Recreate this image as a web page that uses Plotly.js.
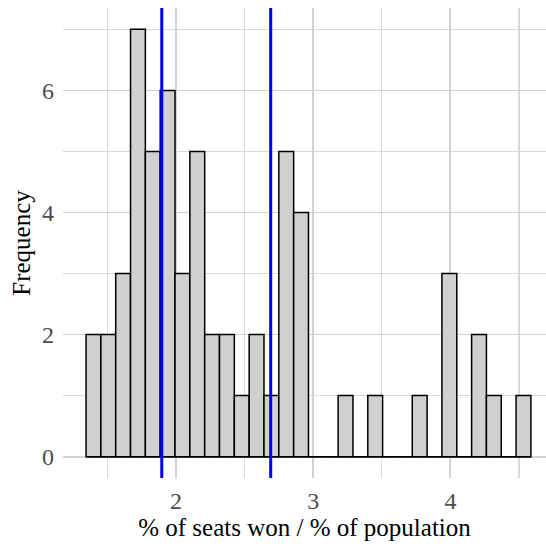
<!DOCTYPE html>
<html>
<head>
<meta charset="utf-8">
<script src="https://cdn.plot.ly/plotly-3.0.1.min.js"></script>
<style>html,body{margin:0;padding:0;background:#fff;}#chart{width:546px;height:548px;}</style>
</head>
<body>
<div id="chart"></div>
<script>
// Histogram bins (30 bins)
var binStart = 1.344;
var binWidth = 0.1081;
var counts = [2,2,3,7,5,6,3,5,2,2,1,2,1,5,4,0,0,1,0,1,0,0,1,0,3,0,2,1,0,1];
// Reference lines (blue)
var refLines = [1.896, 2.690];
var xTickVals = [2, 3, 4];
var yTickVals = [0, 2, 4, 6];

var centers = counts.map(function(c, i){ return binStart + (i + 0.5) * binWidth; });
var binEnd = binStart + counts.length * binWidth;

var font = "Liberation Serif, Times New Roman, serif";

var traces = [
  {
    type: 'bar', x: centers, y: counts, width: binWidth,
    marker: {color: '#d0d0d0', line: {color: '#000000', width: 1.5}},
    hoverinfo: 'skip', showlegend: false
  },
  {
    type: 'scatter', mode: 'lines', x: [binStart, binEnd], y: [0, 0],
    line: {color: '#000000', width: 1.5}, hoverinfo: 'skip', showlegend: false
  }
];

var shapes = refLines.map(function(v){
  return {type: 'line', xref: 'x', yref: 'paper', x0: v, x1: v, y0: 0, y1: 1,
          line: {color: '#0000ff', width: 3}, layer: 'above'};
});

var layout = {
  width: 546, height: 548,
  margin: {l: 63, r: 0, t: 8, b: 70},
  paper_bgcolor: '#ffffff', plot_bgcolor: '#ffffff',
  bargap: 0,
  showlegend: false,
  font: {family: font, size: 24, color: '#4d4d4d'},
  xaxis: {
    range: [1.176, 4.697],
    tickvals: xTickVals, ticktext: xTickVals.map(String),
    showgrid: true, gridcolor: '#d2d2d2', gridwidth: 1.8,
    minor: {dtick: 0.5, tick0: 0, showgrid: true, gridcolor: '#d9d9d9', gridwidth: 1.3},
    zeroline: false, showline: false, ticks: '',
    ticklabelstandoff: 6,
    tickfont: {family: font, size: 24, color: '#4d4d4d'},
    title: {text: '% of seats won / % of population', font: {family: font, size: 25, color: '#000000'}, standoff: 2}
  },
  yaxis: {
    range: [-0.35, 7.35],
    tickvals: yTickVals, ticktext: yTickVals.map(String),
    showgrid: true, gridcolor: '#d2d2d2', gridwidth: 1.8,
    minor: {dtick: 1, tick0: 0, showgrid: true, gridcolor: '#d9d9d9', gridwidth: 1.3},
    zeroline: false, showline: false, ticks: '',
    ticklabelstandoff: 8,
    tickfont: {family: font, size: 24, color: '#4d4d4d'},
    title: {text: 'Frequency', font: {family: font, size: 25, color: '#000000'}, standoff: 4}
  },
  shapes: shapes
};

Plotly.newPlot('chart', traces, layout, {displayModeBar: false, staticPlot: true});
</script>
</body>
</html>
